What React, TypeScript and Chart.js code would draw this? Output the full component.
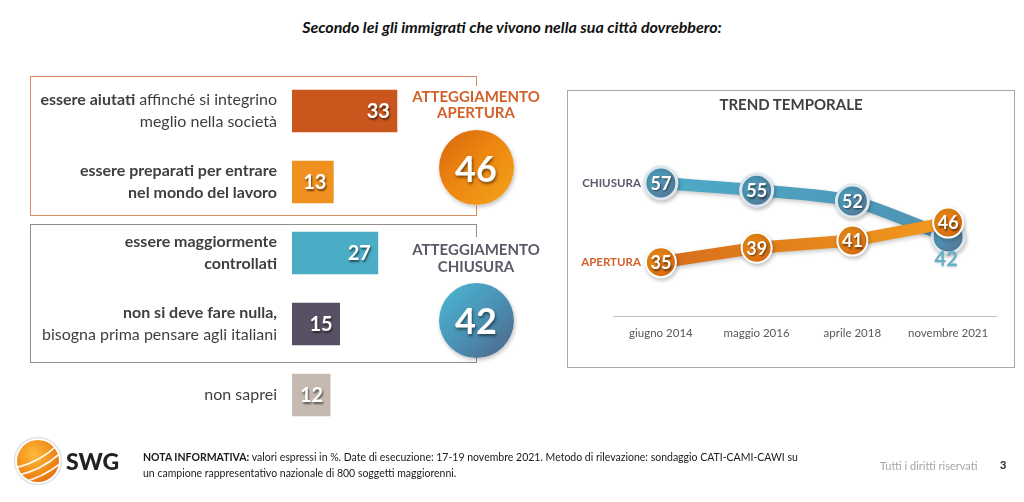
import React, { useEffect, useRef } from "react";
import { Chart, registerables } from "chart.js";

Chart.register(...registerables);

// ---------------- DATA ----------------
const TITLE = "Secondo lei gli immigrati che vivono nella sua città dovrebbero:";

// each answer: lines, each line is a list of [text, bold]
const answerLines: [string, boolean][][][] = [
  [[["essere aiutati", true], [" affinché si integrino", false]], [["meglio nella società", false]]],
  [[["essere preparati per entrare", true]], [["nel mondo del lavoro", true]]],
  [[["essere maggiormente", true]], [["controllati", true]]],
  [[["non si deve fare nulla,", true]], [["bisogna prima pensare agli italiani", false]]],
  [[["non saprei", false]]],
];
const answerValues = [33, 13, 27, 15, 12];
const answerColors = ["#C9561D", "#F0901E", "#4BACC6", "#5A5066", "#C5B9B1"];

const groupNames = [
  ["ATTEGGIAMENTO", "APERTURA"],
  ["ATTEGGIAMENTO", "CHIUSURA"],
];
const groupTotals = [46, 42];

const TREND_TITLE = "TREND TEMPORALE";
const trendLabels = ["giugno 2014", "maggio 2016", "aprile 2018", "novembre 2021"];
const aperturaValues = [35, 39, 41, 46];
const chiusuraValues = [57, 55, 52, 42];
const seriesNames = ["APERTURA", "CHIUSURA"];

const NOTE_BOLD = "NOTA INFORMATIVA:";
const NOTE_LINE1 = " valori espressi in %. Date di esecuzione: 17-19 novembre 2021. Metodo di rilevazione: sondaggio CATI-CAMI-CAWI su";
const NOTE_LINE2 = "un campione rappresentativo nazionale di 800 soggetti maggiorenni.";
const RIGHTS = "Tutti i diritti riservati";
const PAGE = "3";

// ---------------- STYLE ----------------
const FONT = "Lato, 'Open Sans', sans-serif";
const ORANGE_TXT = "#D2622A";
const GRAY_TXT = "#5C5868";
const SERIES_TXT = [ORANGE_TXT, GRAY_TXT];
const LABEL_SIZE = 16;

const fin = (...v: number[]) => v.every((n) => typeof n === "number" && isFinite(n));

const barPlugin = {
  id: "barLabels",
  afterDatasetsDraw(chart: any) {
    const ctx = chart.ctx;
    const meta = chart.getDatasetMeta(0);
    meta.data.forEach((bar: any, i: number) => {
      ctx.save();
      ctx.font = `bold 20px ${FONT}`;
      ctx.fillStyle = "#ffffff";
      ctx.shadowColor = "rgba(0,0,0,0.55)";
      ctx.shadowOffsetX = 1;
      ctx.shadowOffsetY = 1.5;
      ctx.shadowBlur = 2;
      ctx.textAlign = "right";
      ctx.textBaseline = "middle";
      ctx.fillText(String(answerValues[i]), bar.x - 7, bar.y + 1);
      ctx.restore();

      const lines = answerLines[i];
      const lh = 21.5;
      const n = lines.length;
      lines.forEach((segs, li) => {
        const y = bar.y + (li - (n - 1) / 2) * lh;
        ctx.save();
        ctx.textBaseline = "middle";
        ctx.textAlign = "left";
        ctx.fillStyle = "#3F3F3F";
        let total = 0;
        segs.forEach(([t, b]) => {
          ctx.font = `${b ? "bold " : ""}${LABEL_SIZE}px ${FONT}`;
          total += ctx.measureText(t).width;
        });
        let x = chart.chartArea.left - 15 - total;
        segs.forEach(([t, b]) => {
          ctx.font = `${b ? "bold " : ""}${LABEL_SIZE}px ${FONT}`;
          ctx.fillText(t, x, y);
          x += ctx.measureText(t).width;
        });
        ctx.restore();
      });
    });
  },
};

const lineGradient = (c1: string, c2: string) => (c: any) => {
  const chart = c.chart;
  const ca = chart.chartArea;
  if (!ca || !fin(ca.left, ca.right) || ca.right <= ca.left) return c2;
  const g = chart.ctx.createLinearGradient(ca.left, 0, ca.right, 0);
  g.addColorStop(0, c1);
  g.addColorStop(1, c2);
  return g;
};

const pointGradient = (c1: string, c2: string, r: number) => (c: any) => {
  if (c.type !== "data") return c1;
  const chart = c.chart;
  const xs = chart.scales && chart.scales.x;
  const ys = chart.scales && chart.scales.y;
  if (!xs || !ys || !c.parsed) return c1;
  const x = xs.getPixelForValue(c.dataIndex);
  const y = ys.getPixelForValue(c.parsed.y);
  if (!fin(x, y)) return c1;
  const g = chart.ctx.createLinearGradient(x - r, y - r, x + r, y + r);
  g.addColorStop(0, c1);
  g.addColorStop(1, c2);
  return g;
};

const shadowPlugin = {
  id: "dsShadow",
  beforeDatasetDraw(chart: any) {
    const ctx = chart.ctx;
    ctx.save();
    ctx.shadowColor = "rgba(0,0,0,0.22)";
    ctx.shadowBlur = 4;
    ctx.shadowOffsetX = 1;
    ctx.shadowOffsetY = 2;
  },
  afterDatasetDraw(chart: any) {
    chart.ctx.restore();
  },
};

const trendLabelPlugin = {
  id: "trendLabels",
  afterDatasetsDraw(chart: any) {
    const ctx = chart.ctx;
    const metas = [chart.getDatasetMeta(0), chart.getDatasetMeta(1)];
    metas.forEach((meta: any, di: number) => {
      const other = metas[1 - di];
      const ds = chart.data.datasets[di];
      const first = meta.data[0];
      ctx.save();
      ctx.font = `bold 11.5px ${FONT}`;
      ctx.fillStyle = SERIES_TXT[di];
      ctx.textAlign = "right";
      ctx.textBaseline = "middle";
      ctx.fillText(seriesNames[di], first.x - 20, first.y);
      ctx.restore();

      meta.data.forEach((pt: any, i: number) => {
        const op = other.data[i];
        const hidden = di === 1 && op && Math.abs(op.y - pt.y) < 25;
        ctx.save();
        ctx.textAlign = "center";
        ctx.textBaseline = "middle";
        if (hidden) {
          ctx.font = `bold 20px ${FONT}`;
          ctx.fillStyle = "#62B2CE";
          ctx.shadowColor = "rgba(0,0,0,0.25)";
          ctx.shadowBlur = 2;
          ctx.shadowOffsetY = 1;
          ctx.fillText(String(ds.data[i]), pt.x - 2, pt.y + 23);
        } else {
          ctx.font = `bold 18px ${FONT}`;
          ctx.fillStyle = "#ffffff";
          ctx.shadowColor = "rgba(0,0,0,0.55)";
          ctx.shadowBlur = 2;
          ctx.shadowOffsetX = 1;
          ctx.shadowOffsetY = 1.5;
          ctx.fillText(String(ds.data[i]), pt.x, pt.y + 1);
        }
        ctx.restore();
      });
    });
  },
};

function BarChart() {
  const ref = useRef<HTMLCanvasElement>(null);
  useEffect(() => {
    const chart = new Chart(ref.current as HTMLCanvasElement, {
      type: "bar",
      data: {
        labels: answerLines.map((l) => l.map((s) => s.map((p) => p[0]).join("")).join(" ")),
        datasets: [
          {
            data: answerValues,
            backgroundColor: answerColors,
            barThickness: 42,
            borderWidth: 0,
          },
        ],
      },
      options: {
        indexAxis: "y",
        responsive: false,
        maintainAspectRatio: false,
        animation: false,
        events: [],
        layout: { padding: { left: 292, right: 10, top: 75.5, bottom: 71.5 } },
        scales: {
          x: { display: false, min: 0, max: 100 },
          y: { display: false },
        },
        plugins: { legend: { display: false }, tooltip: { enabled: false } },
      },
      plugins: [barPlugin],
    } as any);
    return () => chart.destroy();
  }, []);
  return (
    <canvas
      ref={ref}
      width={620}
      height={502}
      style={{ position: "absolute", left: 0, top: 0, width: 620, height: 502 }}
    />
  );
}

function TrendChart() {
  const ref = useRef<HTMLCanvasElement>(null);
  useEffect(() => {
    const chart = new Chart(ref.current as HTMLCanvasElement, {
      type: "line",
      data: {
        labels: trendLabels,
        datasets: [
          {
            label: seriesNames[0],
            data: aperturaValues,
            order: 0,
            borderColor: lineGradient("#D2661B", "#F7A11E"),
            borderWidth: 12,
            tension: 0,
            pointRadius: 15,
            pointBorderWidth: 2,
            pointBorderColor: "#ffffff",
            pointBackgroundColor: pointGradient("#F39418", "#D2620E", 15),
            clip: false,
          },
          {
            label: seriesNames[1],
            data: chiusuraValues,
            order: 1,
            borderColor: lineGradient("#4DAFCB", "#4F8DAF"),
            borderWidth: 12,
            tension: 0.25,
            pointRadius: 16,
            pointBorderWidth: 3,
            pointBorderColor: "#DCE6EC",
            pointBackgroundColor: pointGradient("#4FB0CE", "#536E8D", 16),
            clip: false,
          },
        ],
      },
      options: {
        responsive: false,
        maintainAspectRatio: false,
        animation: false,
        events: [],
        layout: { padding: { left: 46, right: 5, top: 46.2, bottom: 11.8 } },
        scales: {
          x: {
            offset: true,
            grid: { display: false, drawTicks: false },
            border: { display: true, color: "#BFBFBF", width: 1 },
            ticks: { color: "#595959", font: { family: FONT, size: 11.5 }, padding: 10, maxRotation: 0 },
            afterFit: (s: any) => {
              s.height = 40;
            },
          },
          y: { display: false, min: 20, max: 70 },
        },
        plugins: { legend: { display: false }, tooltip: { enabled: false } },
      },
      plugins: [shadowPlugin, trendLabelPlugin],
    } as any);
    return () => chart.destroy();
  }, []);
  return (
    <canvas
      ref={ref}
      width={448}
      height={278}
      style={{ position: "absolute", left: 567, top: 90, width: 448, height: 278 }}
    />
  );
}

function Logo() {
  return (
    <svg width={50} height={50} viewBox="0 0 50 50" style={{ position: "absolute", left: 13, top: 436 }}>
      <defs>
        <radialGradient id="lg" cx="0.4" cy="0.35" r="0.7">
          <stop offset="0" stopColor="#FDBA3E" />
          <stop offset="0.6" stopColor="#F2901A" />
          <stop offset="1" stopColor="#E56F10" />
        </radialGradient>
        <clipPath id="lc">
          <circle cx="25" cy="25" r="21" />
        </clipPath>
      </defs>
      <circle cx="25" cy="25" r="23.5" fill="none" stroke="#E3E3E3" strokeWidth="1.5" />
      <circle cx="25" cy="25" r="21" fill="url(#lg)" />
      <g clipPath="url(#lc)">
        <g transform="rotate(-28 25 25)" stroke="#ffffff" strokeWidth="1.8" fill="none" opacity="0.9">
          <path d="M0 20 Q25 27 50 20" />
          <path d="M0 28 Q25 35 50 28" />
          <path d="M0 36 Q25 43 50 36" />
          <path d="M0 44 Q25 51 50 44" />
        </g>
      </g>
    </svg>
  );
}

export default function App() {
  useEffect(() => {
    document.body.style.margin = "0";
  }, []);
  const abs = (s: React.CSSProperties): React.CSSProperties => ({ position: "absolute", ...s });
  const circle = (top: number, bg: string, n: number) => (
    <div
      style={abs({
        left: 438.5,
        top,
        width: 75,
        height: 75,
        borderRadius: "50%",
        background: bg,
        boxShadow: "1px 2px 4px rgba(0,0,0,0.25)",
        color: "#fff",
        font: `bold 36px ${FONT}`,
        display: "flex",
        alignItems: "center",
        justifyContent: "center",
        textShadow: "1px 2px 3px rgba(0,0,0,0.5)",
      })}
    >
      {n}
    </div>
  );
  return (
    <div
      style={{
        position: "fixed",
        left: 0,
        top: 0,
        width: 1024,
        height: 502,
        background: "#ffffff",
        overflow: "hidden",
        fontFamily: FONT,
      }}
    >
      <div
        style={abs({
          left: 0,
          top: 17,
          width: 1024,
          textAlign: "center",
          font: `italic bold 16px ${FONT}`,
          color: "#111",
        })}
      >
        {TITLE}
      </div>

      <div
        style={abs({
          left: 30,
          top: 76,
          width: 447,
          height: 140,
          boxSizing: "border-box",
          borderTop: "1px solid #D98A60",
          borderLeft: "1px solid #D98A60",
          borderBottom: "1px solid #D98A60",
        })}
      />
      <div style={abs({ left: 476, top: 76, width: 1, height: 10, background: "#D98A60" })} />
      <div style={abs({ left: 476, top: 206, width: 1, height: 10, background: "#D98A60" })} />

      <div
        style={abs({
          left: 30,
          top: 224,
          width: 447,
          height: 139,
          boxSizing: "border-box",
          borderTop: "1px solid #8E8E8E",
          borderLeft: "1px solid #8E8E8E",
          borderBottom: "1px solid #8E8E8E",
        })}
      />
      <div style={abs({ left: 476, top: 224, width: 1, height: 13, background: "#8E8E8E" })} />
      <div style={abs({ left: 476, top: 355, width: 1, height: 8, background: "#8E8E8E" })} />

      <BarChart />

      <div
        style={abs({
          left: 396,
          top: 88,
          width: 160,
          textAlign: "center",
          font: `bold 15px/16px ${FONT}`,
          color: ORANGE_TXT,
        })}
      >
        {groupNames[0][0]}
        <br />
        {groupNames[0][1]}
      </div>
      <div
        style={abs({
          left: 396,
          top: 241,
          width: 160,
          textAlign: "center",
          font: `bold 15px/17px ${FONT}`,
          color: GRAY_TXT,
        })}
      >
        {groupNames[1][0]}
        <br />
        {groupNames[1][1]}
      </div>
      {circle(130, "linear-gradient(135deg, #D8650F 0%, #EC860F 45%, #F6A21C 100%)", groupTotals[0])}
      {circle(282.5, "linear-gradient(135deg, #4DB7D3 0%, #4A93B6 50%, #4E6384 100%)", groupTotals[1])}

      <div
        style={abs({
          left: 567,
          top: 90,
          width: 448,
          height: 278,
          boxSizing: "border-box",
          border: "1px solid #A9A9A9",
        })}
      />
      <div
        style={abs({
          left: 567,
          top: 95,
          width: 448,
          textAlign: "center",
          font: `bold 15px ${FONT}`,
          color: "#404040",
        })}
      >
        {TREND_TITLE}
      </div>
      <TrendChart />

      <Logo />
      <div style={abs({ left: 66, top: 447, font: `900 23px ${FONT}`, color: "#222" })}>SWG</div>
      <div style={abs({ left: 143, top: 449, font: `10.5px/16px ${FONT}`, color: "#1a1a1a", whiteSpace: "pre" })}>
        <b>{NOTE_BOLD}</b>
        {NOTE_LINE1}
        <br />
        {NOTE_LINE2}
      </div>
      <div style={abs({ left: 880, top: 459, font: `11px ${FONT}`, color: "#A6A6A6" })}>{RIGHTS}</div>
      <div style={abs({ left: 1000, top: 458, font: `bold 11px ${FONT}`, color: "#222" })}>{PAGE}</div>
    </div>
  );
}
